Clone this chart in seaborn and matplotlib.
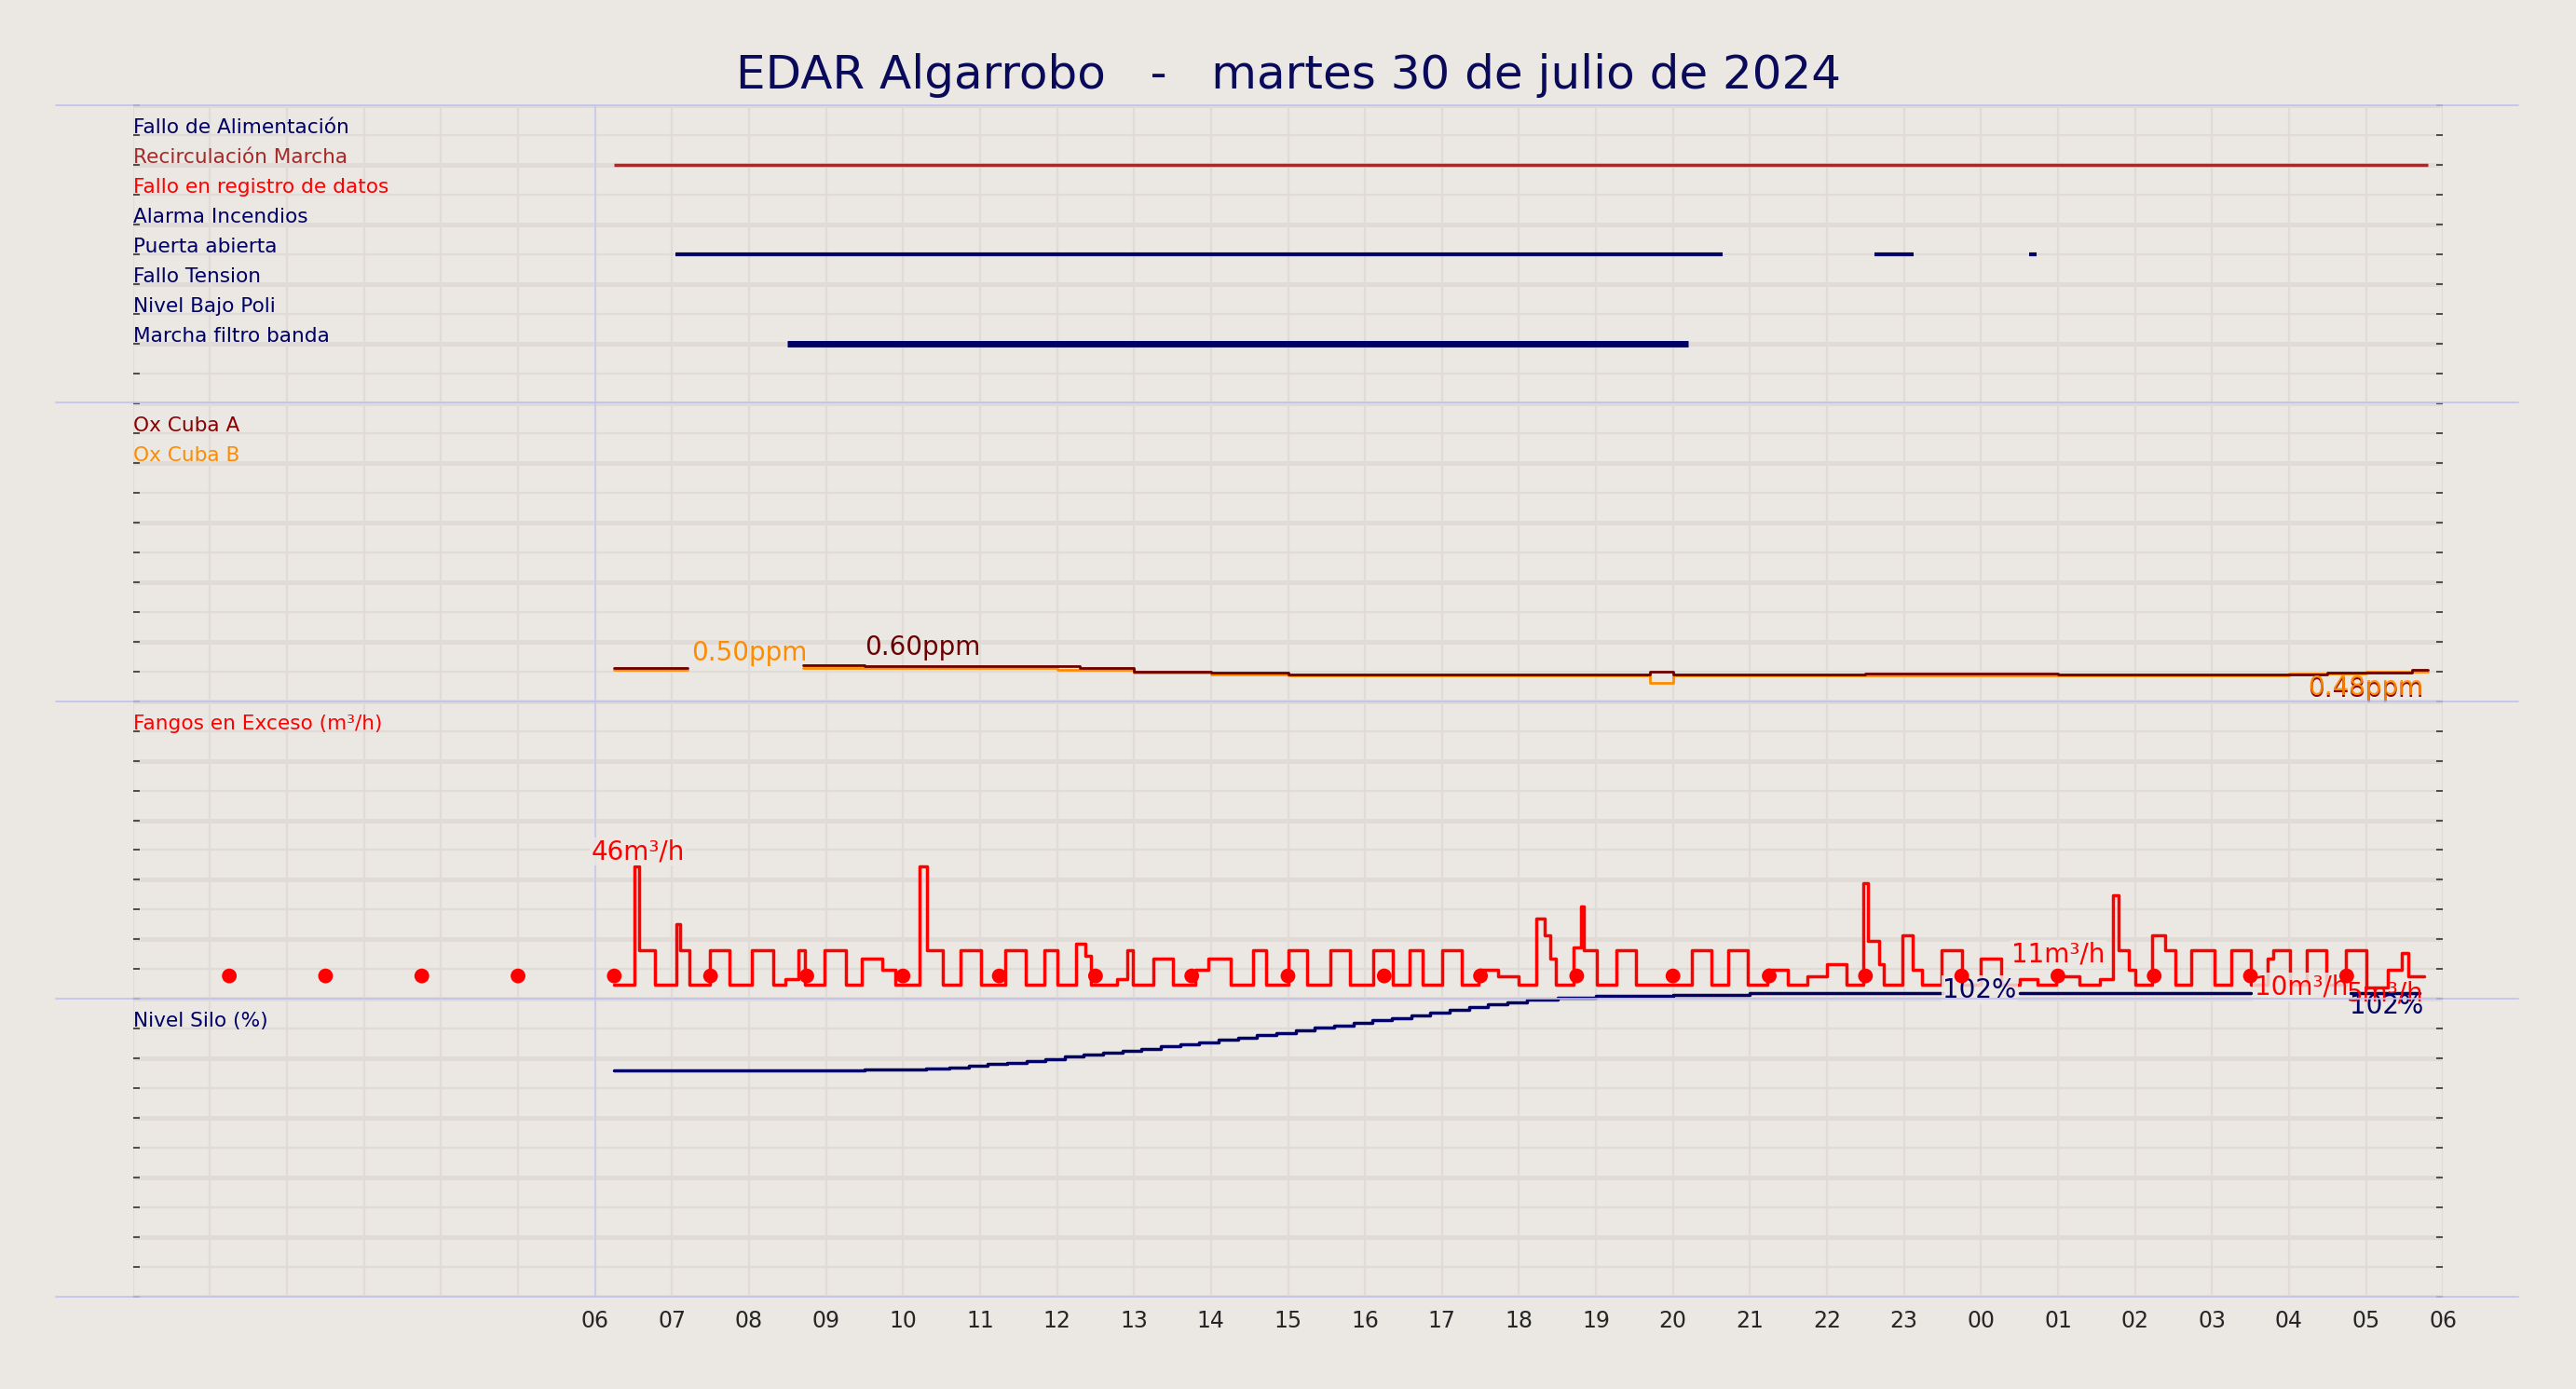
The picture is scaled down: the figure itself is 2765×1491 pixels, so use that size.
import numpy as np
import pandas as pd
import matplotlib
matplotlib.use("Agg")
import matplotlib.pyplot as plt
import seaborn as sns

# ---------------- data ----------------
title = "EDAR Algarrobo   -   martes 30 de julio de 2024"

event_labels = ["Fallo de Alimentación", "Recirculación Marcha", "Fallo en registro de datos",
                "Alarma Incendios", "Puerta abierta", "Fallo Tension", "Nivel Bajo Poli",
                "Marcha filtro banda"]
event_colors = ["#000066", "#a52a2a", "#ff0000", "#000066", "#000066", "#000066", "#000066", "#000066"]
# (row, start hour, end hour)
recirc_on = [(1, 6.25, 29.8)]
puerta_on = [(4, 7.05, 20.65), (4, 22.62, 23.12), (4, 24.62, 24.72)]
filtro_on = [(7, 8.5, 20.2)]

ox_a_t = [6.25, 7.2, 8.7, 9.5, 10.0, 11.0, 12.3, 13.0, 14.0, 15.0, 19.7, 20.0, 22.5, 25.0, 28.5, 29.6, 29.8]
ox_a_v = [0.55, np.nan, 0.61, 0.58, 0.59, 0.58, 0.56, 0.50, 0.47, 0.44, 0.50, 0.44, 0.46, 0.45, 0.48, 0.52, 0.52]
ox_b_t = [6.25, 7.2, 8.7, 10.0, 12.0, 13.0, 14.0, 15.0, 19.7, 20.0, 22.5, 28.0, 29.0, 29.8]
ox_b_v = [0.52, np.nan, 0.56, 0.55, 0.52, 0.47, 0.44, 0.43, 0.30, 0.43, 0.43, 0.46, 0.49, 0.49]

fangos_t = [6.25, 6.51, 6.57, 6.78, 7.06, 7.10, 7.23, 7.49, 7.74, 8.04, 8.32, 8.47, 8.64, 8.73, 8.98,
            9.26, 9.47, 9.73, 9.90, 10.22, 10.31, 10.52, 10.75, 11.01, 11.33, 11.59, 11.84, 12.01,
            12.25, 12.37, 12.44, 12.78, 12.91, 12.99, 13.25, 13.51, 13.80, 13.97, 14.25, 14.55,
            14.72, 15.00, 15.25, 15.55, 15.81, 16.11, 16.36, 16.58, 16.75, 17.00, 17.26, 17.47,
            17.73, 17.99, 18.22, 18.33, 18.41, 18.48, 18.71, 18.80, 18.84, 19.01, 19.27, 19.52,
            20.25, 20.50, 20.72, 20.97, 21.23, 21.49, 21.74, 22.00, 22.25, 22.47, 22.53, 22.68,
            22.74, 22.98, 23.11, 23.23, 23.49, 23.75, 24.00, 24.26, 24.51, 24.73, 24.98, 25.28,
            25.54, 25.71, 25.79, 25.92, 26.01, 26.22, 26.39, 26.52, 26.73, 27.03, 27.25, 27.50,
            27.72, 27.80, 28.01, 28.23, 28.48, 28.74, 29.00, 29.29, 29.46, 29.55, 29.76]
fangos_v = [5, 46, 17, 5, 26, 17, 5, 17, 5, 17, 5, 7, 17, 5, 17,
            5, 14, 10, 5, 46, 17, 5, 17, 5, 17, 5, 17, 5,
            19, 15, 5, 7, 17, 5, 14, 5, 10, 14, 5, 17,
            5, 17, 5, 17, 5, 17, 5, 17, 5, 17, 5, 10,
            8, 5, 28, 22, 14, 5, 18, 32, 17, 5, 17, 5,
            17, 5, 17, 5, 10, 5, 8, 12, 5, 40, 20, 12,
            5, 22, 10, 5, 17, 5, 14, 5, 7, 5, 8, 5,
            7, 36, 17, 10, 5, 22, 17, 5, 17, 5, 17, 5,
            14, 17, 5, 17, 5, 17, 4, 10, 16, 8, 8]
dots_t = [1.25 * k for k in range(1, 24)]
dots_v = [8] * len(dots_t)

silo_t = [6.25, 8.7, 9.5, 10.3, 10.6, 10.85, 11.1, 11.35, 11.6, 11.85, 12.1, 12.35, 12.6, 12.85,
          13.1, 13.35, 13.6, 13.85, 14.1, 14.35, 14.6, 14.85, 15.1, 15.35, 15.6, 15.85, 16.1,
          16.35, 16.6, 16.85, 17.1, 17.35, 17.6, 17.85, 18.1, 18.5, 19.0, 20.0, 21.0, 23.5,
          24.5, 27.5, 28.8, 29.7]
silo_v = [76, 76.2, 76.4, 76.6, 77.1, 77.6, 78.1, 78.7, 79.3, 79.9, 80.6, 81.3, 82.0, 82.7,
          83.4, 84.1, 84.8, 85.5, 86.3, 87.1, 87.9, 88.7, 89.5, 90.3, 91.1, 91.9, 92.8,
          93.7, 94.6, 95.5, 96.4, 97.3, 98.2, 99.0, 99.8, 100.6, 101, 101.5, 102, np.nan,
          102, np.nan, 102, 102]

hour_ticks = list(range(6, 31))
hour_labels = [f"{h % 24:02d}" for h in hour_ticks]

# ---------------- style ----------------
bg = "#ebe7e2"
navy = "#000066"
sns.set_theme(style="white", rc={"figure.facecolor": bg, "axes.facecolor": bg})
plt.rcParams["font.family"] = ["DejaVu Sans"]

fig = plt.figure(figsize=(27.65, 14.91), dpi=100)
ax = fig.add_axes([81 / 1568, 1 - 790 / 846, (1487 - 81) / 1568, (790 - 64) / 846])
ax.set_xlim(0, 30)
ax.set_ylim(0, 40)
for s in ax.spines.values():
    s.set_visible(False)

# grid
for h in range(0, 31):
    ax.axvline(h, color="#e0dbd7", lw=1.6, zorder=0)
for k in range(0, 41):
    ax.axhline(k, color="#e0dbd7", lw=1.6 if k % 2 else 3.5, zorder=0)
ax.axvline(6, color="#c8c8ee", lw=1.2, zorder=1)
for yy in [64, 245, 427, 608, 790]:
    fig.add_artist(plt.Line2D([34 / 1568, 1533 / 1568], [1 - yy / 846] * 2, color="#c0c0f0", lw=1.2))

ax.set_xticks(hour_ticks)
ax.set_xticklabels(hour_labels, fontsize=17)
ax.set_yticks(range(0, 41))
ax.set_yticklabels([])
ax.tick_params(axis="y", which="both", right=True, left=True, length=5, width=1.2, color="#333333", direction="in")
ax.tick_params(axis="x", length=0, pad=10)

# panel 1: events
for i, (lab, c) in enumerate(zip(event_labels, event_colors)):
    ax.text(0, 39 - i + 0.25, lab, color=c, fontsize=15.6, va="center", ha="left")
for row, a, b in recirc_on:
    ax.hlines(39 - row, a, b, color="#a52a2a", lw=2.5)
for row, a, b in puerta_on:
    ax.hlines(39 - row, a, b, color=navy, lw=3)
for row, a, b in filtro_on:
    ax.hlines(39 - row, a, b, color=navy, lw=5)

# panel 2: oxygen
ax.text(0, 29.25, "Ox Cuba A", color="#8b0000", fontsize=15.6, va="center")
ax.text(0, 28.25, "Ox Cuba B", color="#ff8c00", fontsize=15.6, va="center")
ax.step(ox_b_t, 20 + 2 * np.array(ox_b_v), where="post", color="#ff8c00", lw=2)
ax.step(ox_a_t, 20 + 2 * np.array(ox_a_v), where="post", color="#6b0000", lw=2)
ax.text(7.25, 21.6, "0.50ppm", color="#ff8c00", fontsize=20, va="center")
ax.text(9.5, 21.8, "0.60ppm", color="#6b0000", fontsize=20, va="center")
ax.text(29.75, 20.4, "0.48ppm", color="#8b0000", fontsize=20, va="center", ha="right")
ax.text(29.75, 20.45, "0.48ppm", color="#ff8c00", fontsize=20, va="center", ha="right", alpha=0.9)

# panel 3: fangos
ax.text(0, 19.25, "Fangos en Exceso (m³/h)", color="red", fontsize=15.6, va="center")
df_f = pd.DataFrame({"t": fangos_t, "y": 10 + 0.097 * np.array(fangos_v)})
sns.lineplot(data=df_f, x="t", y="y", drawstyle="steps-post", color="red", lw=2.5, ax=ax)
df_d = pd.DataFrame({"t": dots_t, "y": 10 + 0.097 * np.array(dots_v)})
sns.scatterplot(data=df_d, x="t", y="y", color="red", s=130, edgecolor="none", ax=ax, zorder=5)

# panel 4: silo
ax.text(0, 9.25, "Nivel Silo (%)", color=navy, fontsize=15.6, va="center")
ax.step(silo_t, 0.1 * np.array(silo_v), where="post", color=navy, lw=2.5)

box = dict(facecolor=bg, edgecolor="none", alpha=0.85, pad=1)
ax.text(5.95, 14.95, "46m³/h", color="red", fontsize=20, va="center", bbox=box)
ax.text(24.4, 11.5, "11m³/h", color="red", fontsize=20, va="center", bbox=box)
ax.text(23.5, 10.3, "102%", color=navy, fontsize=20, va="center", bbox=box)
ax.text(27.55, 10.4, "10m³/h", color="red", fontsize=20, va="center", bbox=box)
ax.text(29.75, 9.75, "102%", color=navy, fontsize=20, va="center", ha="right")
ax.text(29.75, 10.2, "5m³/h", color="red", fontsize=20, va="center", ha="right")

ax.set_xlabel("")
ax.set_ylabel("")
fig.text(0.5, 1 - 46 / 846, title, color="#0a0a5a", fontsize=36, ha="center", va="center")

fig.savefig("out.png", dpi=100, facecolor=bg)
